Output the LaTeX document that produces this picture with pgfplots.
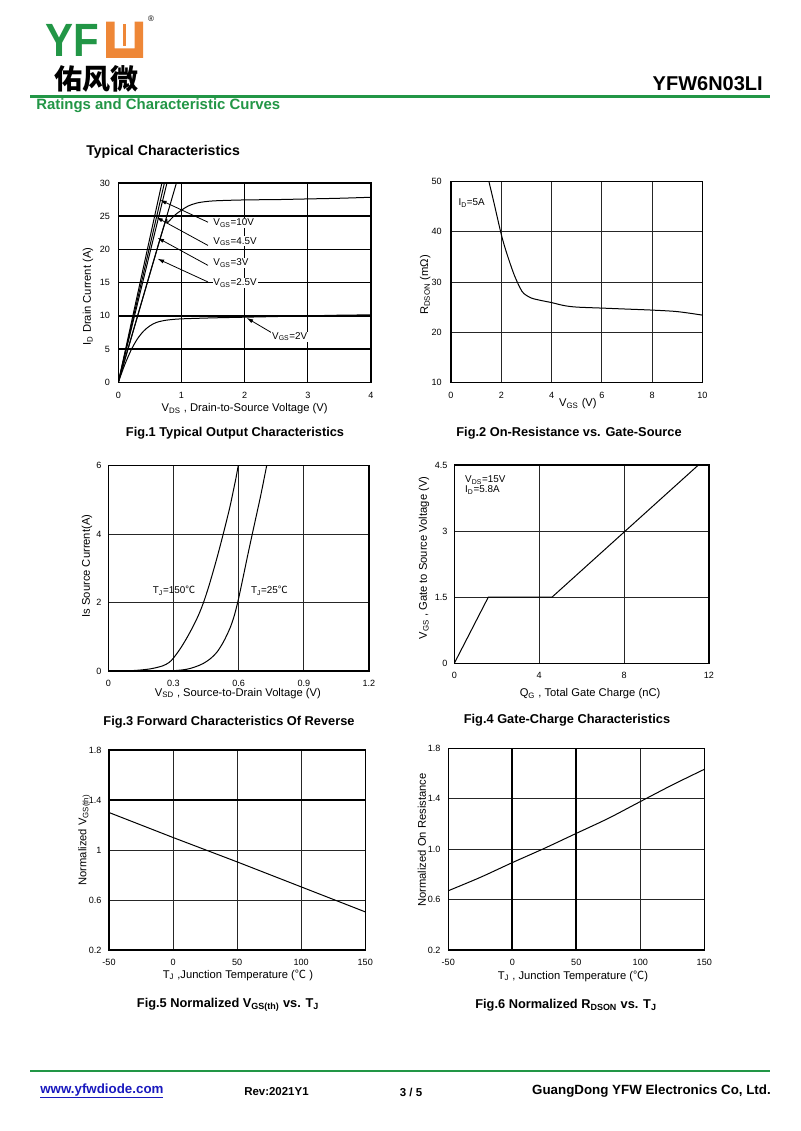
\documentclass[border=0pt]{standalone}
\usepackage{fontspec}
\setmainfont{Liberation Sans}
\newfontfamily\cjk{Noto Sans CJK SC}
\usepackage{pgfplots}
\pgfplotsset{compat=1.18}
\usetikzlibrary{arrows.meta}
\definecolor{yfwgreen}{RGB}{34,150,70}
\definecolor{yfworange}{RGB}{238,135,55}
\definecolor{linkblue}{RGB}{25,25,190}
\newcommand\fs[1]{\fontsize{#1}{#1}\selectfont}
\pgfplotsset{
  ds/.style={
    scale only axis, anchor=south west,
    axis line style={black,line width=0.9pt},
    grid=major,
    major grid style={black!85,line width=0.7pt},
    major tick length=0pt,
    cycle list={{black,solid,mark=none,line width=0.75pt}},
    every axis plot post/.append style={black,solid,mark=none,line width=0.75pt},
    ticklabel style={inner sep=0pt},
  },
  xl/.style 2 args={every axis x label/.style={at={(axis description cs:#1,#2)},anchor=center,font=\fs{8.4}}},
  yl/.style 2 args={every axis y label/.style={at={(axis description cs:#1,#2)},anchor=center,rotate=90,font=\fs{8.4}}},
  xt/.style={xticklabel style={font=\fs{6.8},anchor=center,yshift=-#1}},
  yt/.style={yticklabel style={font=\fs{6.8},anchor=east,xshift=-#1}},
}
\tikzset{ann/.style={-{Latex[length=5pt,width=3pt]},line width=0.6pt},
  lab/.style={anchor=west,fill=white,inner sep=0.6pt,font=\fs{7.4}},
  heavy/.style={black,line width=1.2pt}}
\begin{document}
\begin{tikzpicture}
\begin{scope}[x=0.75pt,y=-0.75pt]
\path[use as bounding box,fill=white] (0,0) rectangle (800,1131);
% header
\node[anchor=base west,inner sep=0,text=yfwgreen] at (45,57) {\scalebox{0.9}[1]{\fs{35}\bfseries YF}};
\fill[yfworange] (106,21.7) -- (106,58) -- (143,58) -- (143,21.7) -- (134.5,21.7) -- (134.5,48.3) -- (114.5,48.3) -- (114.5,21.7) -- cycle;
\fill[yfworange] (123,24) rectangle (126,46);
\node[inner sep=0] at (151,19) {\fs{6}®};
\node[anchor=west,inner sep=0] at (54,79) {\cjk\bfseries\fs{21}佑风微};
\node[anchor=east,inner sep=0] at (763,84) {\fs{15}\bfseries YFW6N03LI};
\draw[yfwgreen,line width=2pt] (30,96.5) -- (770,96.5);
\node[anchor=west,inner sep=0,text=yfwgreen] at (36,106) {\fs{11.2}\bfseries Ratings and Characteristic Curves};
\node[anchor=west,inner sep=0] at (86,152) {\fs{10.6}\bfseries Typical Characteristics};
% captions
\node[inner sep=0] at (235,433) {\fs{9.6}\bfseries Fig.1 Typical Output Characteristics};
\node[inner sep=0] at (569,433) {\fs{9.6}\bfseries Fig.2 On-Resistance vs. Gate-Source};
\node[inner sep=0] at (229,722) {\fs{9.6}\bfseries Fig.3 Forward Characteristics Of Reverse};
\node[inner sep=0] at (567,720) {\fs{9.6}\bfseries Fig.4 Gate-Charge Characteristics};
\node[inner sep=0] at (228,1005) {\fs{9.6}\bfseries Fig.5 Normalized V\textsubscript{GS(th)} vs. T\textsubscript{J}};
\node[inner sep=0] at (566,1005) {\fs{9.6}\bfseries Fig.6 Normalized R\textsubscript{DSON} vs. T\textsubscript{J}};
% footer
\draw[yfwgreen,line width=2pt] (30,1071) -- (770,1071);
\node[anchor=west,inner sep=0,text=linkblue] at (40,1091) {\fs{10}\bfseries\underline{www.yfwdiode.com}};
\node[anchor=west,inner sep=0] at (244,1092) {\fs{8.6}\bfseries Rev:2021Y1};
\node[inner sep=0] at (411,1092) {\fs{8.6}\bfseries 3 / 5};
\node[anchor=east,inner sep=0] at (771,1091) {\fs{10}\bfseries GuangDong YFW Electronics Co, Ltd.};
\end{scope}

% Fig.1
\begin{axis}[ds, at={(88.73pt,-286.73pt)}, width=189.5pt, height=149.5pt,
  xmin=0,xmax=4,ymin=0,ymax=30,
  xtick={0,1,2,3,4}, xticklabels={0,1,2,3,4},
  ytick={0,5,10,15,20,25,30}, yticklabels={0,5,10,15,20,25,30},
  xt=9.75pt, yt=6pt, major grid style={black,line width=0.85pt},
  xlabel={V\textsubscript{DS} , Drain-to-Source Voltage (V)},
  ylabel={I\textsubscript{D} Drain Current (A)},
  xl={0.5}{-0.134}, yl={-0.12}{0.43}]
\draw[heavy] (axis cs:0,5) -- (axis cs:4,5) (axis cs:0,10) -- (axis cs:4,10) (axis cs:0,15) -- (axis cs:4,15) (axis cs:0,20) -- (axis cs:4,20) (axis cs:0,25) -- (axis cs:4,25);
\addplot coordinates {(0,0) (0.69,30)};
\addplot coordinates {(0,0) (0.73,30)};
\addplot coordinates {(0,0) (0.77,30)};
\addplot coordinates {(0,0) (0.92,30)};
\addplot+[smooth] coordinates {(0,0) (0.70,22.8) (0.78,24.0) (0.9,25.2) (1.0,25.9) (1.1,26.5) (1.25,27.0) (1.5,27.3) (2,27.45) (2.5,27.5) (3,27.6) (3.5,27.7) (4,27.85)};
\addplot+[smooth] coordinates {(0,0) (0.1,2.6) (0.2,4.8) (0.3,6.5) (0.4,7.7) (0.5,8.5) (0.6,9.0) (0.7,9.25) (0.8,9.4) (1.0,9.55) (1.5,9.7) (2,9.8) (2.5,9.9) (3,10.0) (3.5,10.1) (4,10.15)};
\draw[ann] (axis cs:1.42,24.1) -- (axis cs:0.66,27.45);
\draw[ann] (axis cs:1.42,20.6) -- (axis cs:0.60,24.85);
\draw[ann] (axis cs:1.42,17.6) -- (axis cs:0.62,21.75);
\draw[ann] (axis cs:1.42,15.1) -- (axis cs:0.62,18.6);
\draw[ann] (axis cs:2.43,7.45) -- (axis cs:2.03,9.7);
\node[lab] at (axis cs:1.49,23.95) {V\textsubscript{GS}=10V};
\node[lab] at (axis cs:1.49,21.2) {V\textsubscript{GS}=4.5V};
\node[lab] at (axis cs:1.49,17.9) {V\textsubscript{GS}=3V};
\node[lab] at (axis cs:1.49,14.9) {V\textsubscript{GS}=2.5V};
\node[lab] at (axis cs:2.42,6.87) {V\textsubscript{GS}=2V};
\end{axis}

% Fig.2
\begin{axis}[ds, at={(338.25pt,-286.73pt)}, width=188.5pt, height=150.45pt,
  xmin=0,xmax=10,ymin=10,ymax=50,
  xtick={0,2,4,6,8,10}, xticklabels={0,2,4,6,8,10},
  ytick={10,20,30,40,50}, yticklabels={10,20,30,40,50},
  xt=9.5pt, yt=6.75pt,
  xlabel={V\textsubscript{GS} (V)},
  ylabel={R\textsubscript{DSON} (mΩ)},
  xl={0.505}{-0.108}, yl={-0.103}{0.485}]
\addplot+[smooth] coordinates {(1.51,50) (1.7,46) (2.0,39.5) (2.2,36.0) (2.5,31.6) (2.75,28.8) (2.9,27.7) (3.2,26.8) (3.6,26.3) (4,25.9) (4.5,25.3) (5,25.0) (6,24.8) (7,24.6) (8,24.4) (9,24.1) (10,23.4)};
\node[anchor=west,inner sep=0,font=\fs{7.4}] at (axis cs:0.29,45.7) {I\textsubscript{D}=5A};
\end{axis}

% Fig.3
\begin{axis}[ds, at={(81.23pt,-503.25pt)}, width=195.5pt, height=154pt,
  xmin=0,xmax=1.2,ymin=0,ymax=6,
  xtick={0,0.3,0.6,0.9,1.2}, xticklabels={0,0.3,0.6,0.9,1.2},
  ytick={0,2,4,6}, yticklabels={0,2,4,6},
  xt=9.4pt, yt=5pt,
  xlabel={V\textsubscript{SD} , Source-to-Drain Voltage (V)},
  ylabel={Is Source Current(A)},
  xl={0.497}{-0.108}, yl={-0.082}{0.511}]
\addplot+[smooth] coordinates {(0,0) (0.1,0.01) (0.15,0.03) (0.2,0.07) (0.25,0.15) (0.28,0.25) (0.30,0.38) (0.33,0.64) (0.36,0.95) (0.39,1.3) (0.415,1.63) (0.437,1.98) (0.46,2.42) (0.48,2.85) (0.50,3.3) (0.52,3.78) (0.54,4.28) (0.56,4.8) (0.575,5.25) (0.588,5.65) (0.598,6.0)};
\addplot+[smooth] coordinates {(0,0) (0.2,0.0) (0.3,0.01) (0.36,0.05) (0.40,0.12) (0.437,0.22) (0.47,0.36) (0.50,0.55) (0.53,0.85) (0.56,1.25) (0.58,1.62) (0.598,2.07) (0.62,2.72) (0.64,3.33) (0.66,3.92) (0.68,4.5) (0.70,5.08) (0.715,5.55) (0.729,6.0)};
\node[anchor=west,inner sep=0,font=\fs{7.4}] at (axis cs:0.204,2.34) {T\textsubscript{J}=150{\cjk ℃}};
\node[anchor=west,inner sep=0,font=\fs{7.4}] at (axis cs:0.656,2.34) {T\textsubscript{J}=25{\cjk ℃}};
\end{axis}

% Fig.4
\begin{axis}[ds, at={(340.73pt,-497.48pt)}, width=191pt, height=148.7pt,
  xmin=0,xmax=12,ymin=0,ymax=4.5,
  xtick={0,4,8,12}, xticklabels={0,4,8,12},
  ytick={0,1.5,3,4.5}, yticklabels={0,1.5,3,4.5},
  xt=8.8pt, yt=5pt,
  xlabel={Q\textsubscript{G} , Total Gate Charge (nC)},
  ylabel={V\textsubscript{GS} , Gate to Source Voltage (V)},
  xl={0.533}{-0.155}, yl={-0.119}{0.531}]
\addplot coordinates {(0,0) (1.6,1.5) (4.6,1.5) (11.5,4.5)};
\node[anchor=west,inner sep=0,font=\fs{7.4}] at (axis cs:0.5,4.16) {V\textsubscript{DS}=15V};
\node[anchor=west,inner sep=0,font=\fs{7.4}] at (axis cs:0.5,3.93) {I\textsubscript{D}=5.8A};
\end{axis}

% Fig.5
\begin{axis}[ds, at={(81.75pt,-712.5pt)}, width=192.2pt, height=150pt,
  xmin=-50,xmax=150,ymin=0.2,ymax=1.8,
  xtick={-50,0,50,100,150}, xticklabels={-50,0,50,100,150},
  ytick={0.2,0.6,1,1.4,1.8}, yticklabels={0.2,0.6,1,1.4,1.8},
  xt=9.5pt, yt=5.5pt,
  xlabel={T\textsubscript{J} ,Junction Temperature ({\cjk ℃} )},
  ylabel={Normalized V\textsubscript{GS(th)}},
  xl={0.503}{-0.125}, yl={-0.0975}{0.55}]
\draw[heavy] (axis cs:-50,1.4) -- (axis cs:150,1.4);
\addplot coordinates {(-50,1.30) (0,1.10) (50,0.905) (100,0.705) (150,0.505)};
\end{axis}

% Fig.6
\begin{axis}[ds, at={(336.2pt,-712.5pt)}, width=192pt, height=151.3pt,
  xmin=-50,xmax=150,ymin=0.2,ymax=1.8,
  xtick={-50,0,50,100,150}, xticklabels={-50,0,50,100,150},
  ytick={0.2,0.6,1.0,1.4,1.8}, yticklabels={0.2,0.6,1.0,1.4,1.8},
  xt=9.2pt, yt=5.7pt,
  xlabel={T\textsubscript{J} , Junction Temperature ({\cjk ℃})},
  ylabel={Normalized On Resistance},
  xl={0.487}{-0.129}, yl={-0.103}{0.545}]
\draw[heavy] (axis cs:0,0.2) -- (axis cs:0,1.8) (axis cs:50,0.2) -- (axis cs:50,1.8);
\addplot+[smooth] coordinates {(-50,0.67) (-25,0.776) (0,0.893) (25,1.006) (50,1.125) (75,1.244) (100,1.377) (125,1.509) (150,1.633)};
\end{axis}
\end{tikzpicture}
\end{document}
